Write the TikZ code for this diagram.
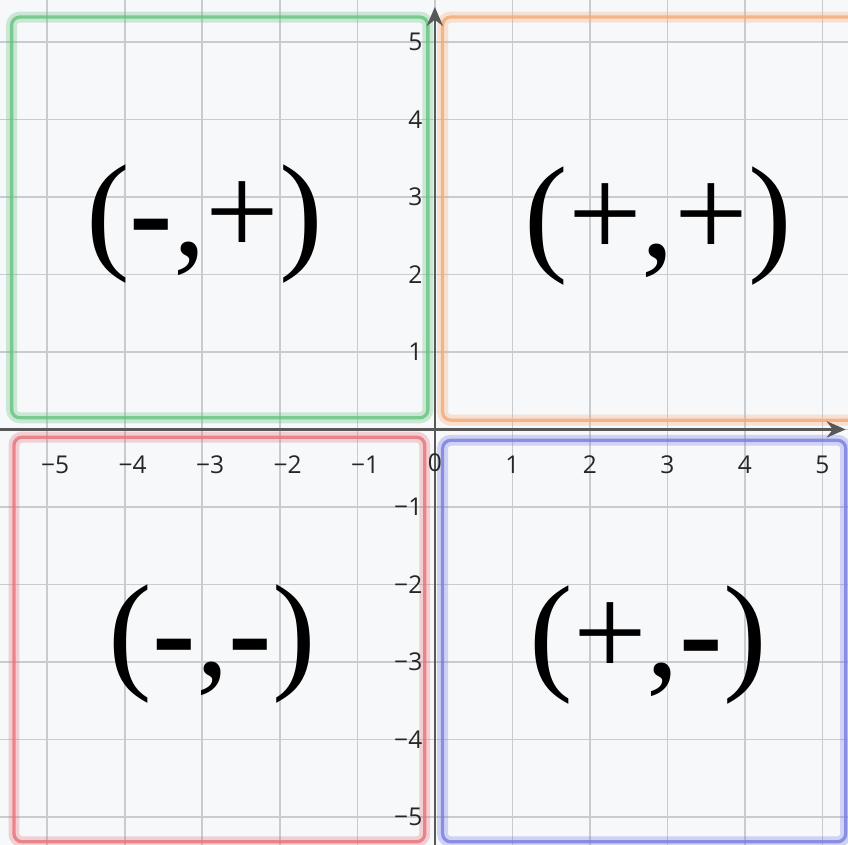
\documentclass[tikz,border=0pt]{standalone}
\usepackage{fontspec}
\usepackage{xcolor}
\usepackage{tikz}
\usetikzlibrary{arrows.meta}
\usetikzlibrary{positioning}
\setmainfont{Liberation Serif}
\newfontfamily\ticksfont{Open Sans}

\definecolor{paper}{RGB}{246,248,250}
\definecolor{gridgray}{RGB}{200,203,208}
\definecolor{axisgray}{RGB}{88,88,88}
\definecolor{qgreen}{RGB}{100,195,125}
\definecolor{qorange}{RGB}{245,170,115}
\definecolor{qred}{RGB}{230,115,120}
\definecolor{qblue}{RGB}{120,125,225}

\newcommand{\minussign}{\textbf{-}}

\begin{document}
\begin{tikzpicture}[
    quadrant/.style={font=\fontsize{48}{50}\selectfont, inner sep=0pt},
    tick label/.style={font=\ticksfont\fontsize{9}{10}\selectfont, text=black!85, inner sep=1pt},
    halo/.style={line width=4pt, draw opacity=0.3, rounded corners=3pt},
    frame/.style={line width=1.2pt, draw opacity=0.8, rounded corners=3pt},
  ]

  \useasboundingbox (-5.61,-5.36) rectangle (5.33,5.54);
  \fill[paper] (-5.61,-5.36) rectangle (5.33,5.54);
  \draw[gridgray, line width=0.6pt] (-5.61,-5.36) grid (5.33,5.54);

  % quadrant frames
  \draw[halo, qgreen]  (-5.46,0.15) rectangle (-0.09,5.32);
  \draw[frame, qgreen] (-5.46,0.15) rectangle (-0.09,5.32);
  \draw[halo, qorange]  (0.10,0.12) rectangle (5.45,5.32);
  \draw[frame, qorange] (0.10,0.12) rectangle (5.45,5.32);
  \draw[halo, qred]  (-5.43,-5.32) rectangle (-0.13,-0.10);
  \draw[frame, qred] (-5.43,-5.32) rectangle (-0.13,-0.10);
  \draw[halo, qblue]  (0.10,-5.32) rectangle (5.30,-0.14);
  \draw[frame, qblue] (0.10,-5.32) rectangle (5.30,-0.14);

  % axes
  \coordinate (xl) at (-5.61,0);
  \coordinate (xr) at (5.30,0);
  \coordinate (yb) at (0,-5.36);
  \coordinate (yt) at (0,5.45);
  \draw[axisgray, line width=0.8pt, -{Stealth[length=7pt,width=6pt]}] (xl) -- (xr);
  \draw[axisgray, line width=0.8pt, -{Stealth[length=7pt,width=6pt]}] (yb) -- (yt);

  % tick labels
  \node[tick label] (x0) at (0,-0.43) {0};
  \node[tick label] (x1) at (1,-0.46) {1};
  \node[tick label] (x2) at (2,-0.46) {2};
  \node[tick label] (x3) at (3,-0.46) {3};
  \node[tick label] (x4) at (4,-0.46) {4};
  \node[tick label] (x5) at (5,-0.46) {5};
  \node[tick label] (xm1) at (-0.9,-0.46) {−1};
  \node[tick label] (xm2) at (-1.9,-0.46) {−2};
  \node[tick label] (xm3) at (-2.9,-0.46) {−3};
  \node[tick label] (xm4) at (-3.9,-0.46) {−4};
  \node[tick label] (xm5) at (-4.9,-0.46) {−5};
  \node[tick label, anchor=east] (y1) at (-0.12,1) {1};
  \node[tick label, anchor=east] (y2) at (-0.12,2) {2};
  \node[tick label, anchor=east] (y3) at (-0.12,3) {3};
  \node[tick label, anchor=east] (y4) at (-0.12,4) {4};
  \node[tick label, anchor=east] (y5) at (-0.12,5) {5};
  \node[tick label, anchor=east] (ym1) at (-0.12,-1) {−1};
  \node[tick label, anchor=east] (ym2) at (-0.12,-2) {−2};
  \node[tick label, anchor=east] (ym3) at (-0.12,-3) {−3};
  \node[tick label, anchor=east] (ym4) at (-0.12,-4) {−4};
  \node[tick label, anchor=east] (ym5) at (-0.12,-5) {−5};

  % sign pairs
  \node[quadrant] (q2) at (-2.97,2.65)  {(\minussign,+)};
  \node[quadrant] (q1) at (2.88,2.63)   {(+,+)};
  \node[quadrant] (q3) at (-2.87,-2.77) {(\minussign,\minussign)};
  \node[quadrant] (q4) at (2.75,-2.78)  {(+,\minussign)};

\end{tikzpicture}
\end{document}
